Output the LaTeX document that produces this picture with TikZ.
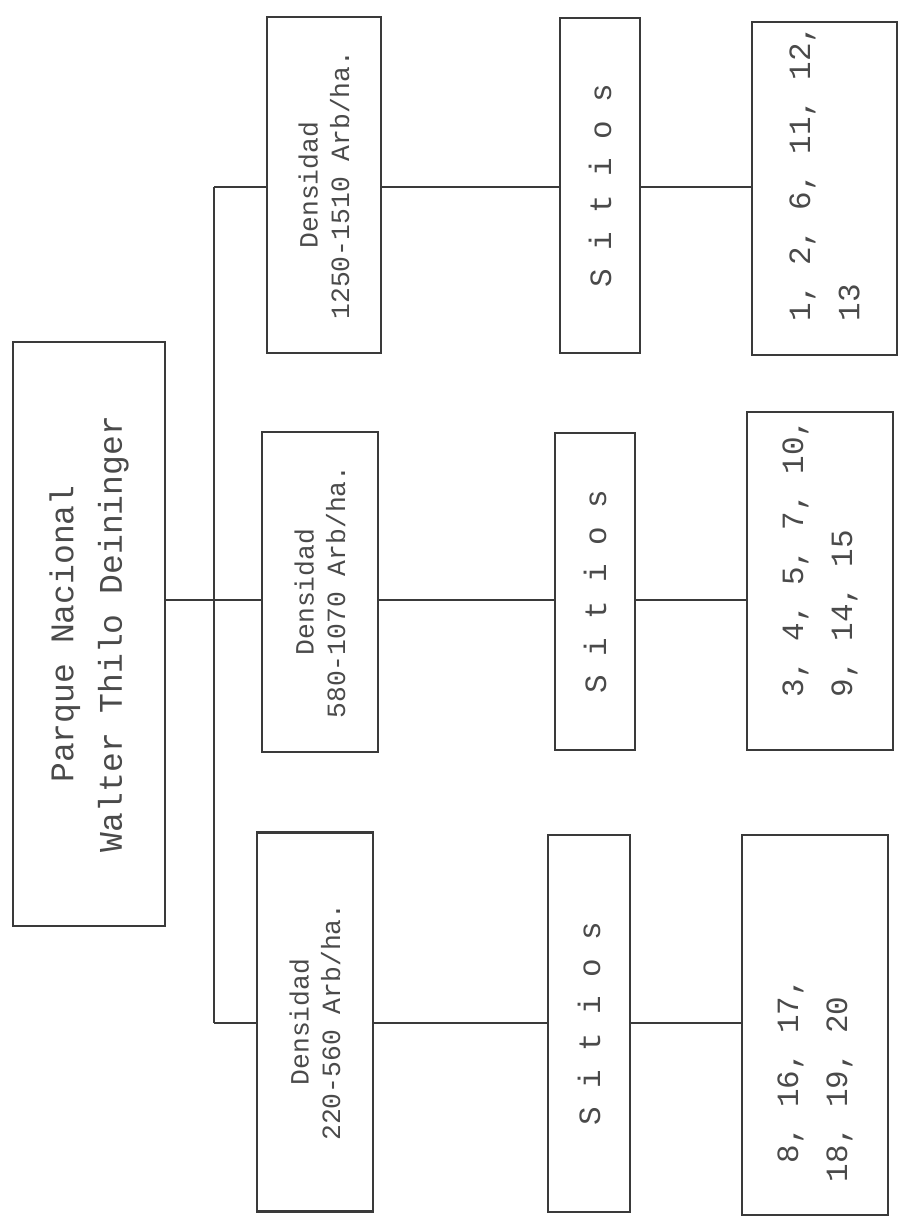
\documentclass[tikz,border=0pt]{standalone}
\usepackage{fontspec}
\setmonofont{Liberation Mono}
\usepackage{tikz}
\usetikzlibrary{positioning,calc}
\definecolor{Ink}{HTML}{3A3A3A}
\definecolor{Type}{HTML}{4A4A4A}

\begin{document}
\begin{tikzpicture}[x=1cm,y=1cm,
    box/.style={draw=Ink,line width=0.6pt,rotate=90,inner sep=2pt,text=Type},
    rootbox/.style={box,align=center,font=\ttfamily\fontsize{9.4}{13.8}\selectfont},
    densbox/.style={box,align=center,font=\ttfamily\fontsize{7.5}{9}\selectfont},
    sitbox/.style={box,minimum height=0.80cm,font=\ttfamily\fontsize{8.8}{10}\selectfont},
    listbox/.style={box,align=left,minimum height=1.46cm,font=\ttfamily\fontsize{8.8}{14}\selectfont},
    link/.style={draw=Ink,line width=0.6pt}]
    \useasboundingbox (0,0) rectangle (9,-12.26);

    \node[rootbox,minimum width=5.84cm,minimum height=1.52cm] (root) at (0.89,-6.34)
      {Parque Nacional\\Walter Thilo Deininger};

    \node[densbox,minimum width=3.36cm,minimum height=1.14cm] (d1) at (3.24,-1.85)
      {Densidad\\1250-1510 Arb/ha.};
    \node[densbox,minimum width=3.20cm,minimum height=1.16cm] (d2) at (3.20,-5.92)
      {Densidad\\580-1070 Arb/ha.};
    \node[densbox,minimum width=3.79cm,minimum height=1.16cm] (d3) at (3.15,-10.22)
      {Densidad\\220-560 Arb/ha.};

    \node[sitbox,minimum width=3.35cm] (s1) at (6.00,-1.855) {S i t i o s};
    \node[sitbox,minimum width=3.17cm] (s2) at (5.95,-5.915) {S i t i o s};
    \node[sitbox,minimum width=3.77cm,minimum height=0.82cm] (s3) at (5.89,-10.235) {S i t i o s};

    \node[listbox,inner xsep=0.5pt,minimum width=3.33cm,minimum height=1.45cm] (n1) at (8.245,-1.885)
      {\rule{0.31cm}{0pt}1, 2, 6, 11, 12,\\\rule{0.31cm}{0pt}13};
    \node[listbox,minimum width=3.34cm] (n2) at (8.20,-5.81)
      {\rule{0.46cm}{0pt}3, 4, 5, 7, 10,\\\rule{0.46cm}{0pt}9, 14, 15};
    \node[listbox,minimum width=3.80cm] (n3) at (8.15,-10.25)
      {\phantom{1}8, 16, 17,\rule{1.1cm}{0pt}\\18, 19, 20};

    \coordinate (row1) at (0,-1.87);
    \coordinate (row2) at (0,-6.00);
    \coordinate (row3) at (0,-10.23);
    \coordinate (trunk) at (2.14,0);

    \draw[link] (trunk |- row1) -- (trunk |- row3);
    \draw[link] (root.south |- row2) -- (d2.north |- row2);
    \draw[link] (trunk |- row1) -- (d1.north |- row1);
    \draw[link] (trunk |- row3) -- (d3.north |- row3);
    \foreach \i in {1,2,3} {
      \draw[link] (d\i.south |- row\i) -- (s\i.north |- row\i);
      \draw[link] (s\i.south |- row\i) -- (n\i.north |- row\i);
    }
  \end{tikzpicture}
\end{document}
